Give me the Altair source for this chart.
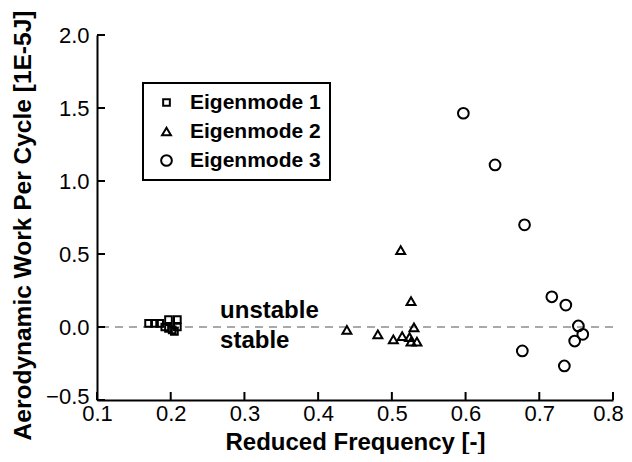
import altair as alt
import pandas as pd

# ---- data ----
modes = ["Eigenmode 1", "Eigenmode 2", "Eigenmode 3"]

mode1_x = [0.170, 0.178, 0.185, 0.192, 0.197, 0.197, 0.202, 0.209, 0.209, 0.205]
mode1_y = [0.025, 0.025, 0.025, 0.000, 0.050, -0.010, -0.020, 0.050, 0.000, -0.030]

mode2_x = [0.439, 0.481, 0.502, 0.512, 0.514, 0.524, 0.526, 0.526, 0.530, 0.534]
mode2_y = [-0.020, -0.050, -0.084, 0.527, -0.062, -0.070, 0.178, -0.100, -0.002, -0.100]

mode3_x = [0.597, 0.640, 0.680, 0.717, 0.736, 0.753, 0.759, 0.748, 0.677, 0.734]
mode3_y = [1.464, 1.110, 0.700, 0.207, 0.150, 0.007, -0.050, -0.096, -0.164, -0.267]

x_ticks = [0.1, 0.2, 0.3, 0.4, 0.5, 0.6, 0.7, 0.8]
y_ticks = [-0.5, 0.0, 0.5, 1.0, 1.5, 2.0]

note_labels = ["unstable", "stable"]
note_x = [0.267, 0.267]
note_y = [0.062, -0.144]

# ---- tables ----
rows = []
for name, xs_, ys_ in zip(modes, [mode1_x, mode2_x, mode3_x], [mode1_y, mode2_y, mode3_y]):
    for a, b in zip(xs_, ys_):
        rows.append({"mode": name, "x": a, "y": b})
df = pd.DataFrame(rows)
notes = pd.DataFrame({"label": note_labels, "x": note_x, "y": note_y})

W, H = 516, 365
FONT = "Liberation Sans"
xs = alt.Scale(domain=[0.1, 0.8], nice=False, zero=False)
ys = alt.Scale(domain=[-0.5, 2.0], nice=False, zero=False)

x_axis = alt.Axis(
    title="Reduced Frequency [-]", values=x_ticks, format=".1f",
    ticks=False, grid=False, domainColor="black", domainWidth=2,
    labelFont=FONT, labelFontSize=22, labelColor="black", labelPadding=3,
    labelOffset=alt.expr("datum.value > 0.79 ? -5 : 0"),
    titleFont=FONT, titleFontSize=24, titleFontWeight="bold", titleColor="black",
    titleY=49, titleBaseline="alphabetic", labelFlush=False)
y_axis = alt.Axis(
    title="Aerodynamic Work Per Cycle [1E-5J]", values=y_ticks, format=".1f",
    ticks=False, grid=False, domainColor="black", domainWidth=2,
    labelFont=FONT, labelFontSize=22, labelColor="black", labelPadding=8,
    labelOffset=alt.expr("datum.value < -0.4 ? -4 : 0"),
    titleFont=FONT, titleFontSize=24.5, titleFontWeight="bold", titleColor="black",
    titleX=-74, titleY=190, titleBaseline="middle", labelFlush=False)

zero_line = alt.Chart(pd.DataFrame({"z": [0.0]})).mark_rule(
    color="#555555", strokeWidth=1, strokeDash=[8, 6]
).encode(y=alt.Y("z:Q", scale=ys, axis=y_axis))

xtick_marks = alt.Chart(pd.DataFrame({"t": x_ticks})).mark_rule(
    color="black", strokeWidth=2
).encode(x=alt.X("t:Q", scale=xs, axis=x_axis), y=alt.value(H), y2=alt.value(H - 8))

ytick_marks = alt.Chart(pd.DataFrame({"t": y_ticks})).mark_rule(
    color="black", strokeWidth=2
).encode(y=alt.Y("t:Q", scale=ys, axis=y_axis), x=alt.value(0), x2=alt.value(8))

legend = alt.Legend(orient="none", legendX=46, legendY=48,
                    fillColor="white", strokeColor="black",
                    padding=9, rowPadding=7,
                    labelFont=FONT, labelFontSize=21, labelFontWeight="bold",
                    labelColor="black", labelOffset=13,
                    symbolStrokeWidth=2,
                    symbolStrokeColor="black", symbolFillColor="transparent",
                    symbolOffset=4)

points = alt.Chart(df).mark_point(
    filled=False, color="black", strokeWidth=2, opacity=1
).encode(
    x=alt.X("x:Q", scale=xs, axis=x_axis),
    y=alt.Y("y:Q", scale=ys, axis=y_axis),
    shape=alt.Shape("mode:N", title=None,
                    scale=alt.Scale(domain=modes, range=["square", "triangle-up", "circle"]),
                    legend=legend),
    size=alt.Size("mode:N", title=None,
                  scale=alt.Scale(domain=modes, range=[45, 115, 100]),
                  legend=legend),
)

texts = alt.Chart(notes).mark_text(
    font=FONT, fontSize=24, fontWeight="bold", color="black", align="left", baseline="alphabetic"
).encode(
    x=alt.X("x:Q", scale=xs, axis=x_axis),
    y=alt.Y("y:Q", scale=ys, axis=y_axis),
    text="label:N",
)

chart = alt.layer(zero_line, xtick_marks, ytick_marks, points, texts).properties(
    width=W, height=H,
    autosize=alt.AutoSizeParams(type="none"),
    padding={"left": 89, "top": 27, "right": 11, "bottom": 54},
    background="white",
).configure_view(stroke="transparent")

try:
    chart.configure_legend(strokeWidth=2).save(
        "out.html", embed_options={"renderer": "svg", "actions": False})
except Exception:
    chart.save("out.html", embed_options={"renderer": "svg", "actions": False})
